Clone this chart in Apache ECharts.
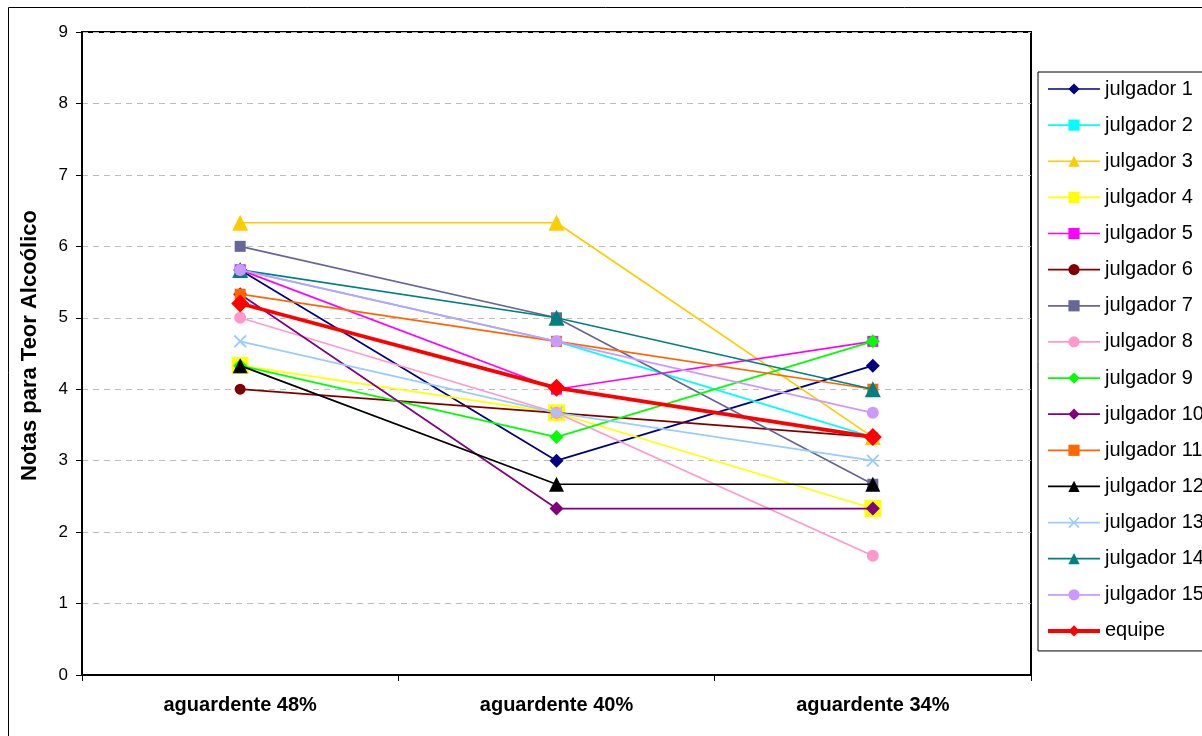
<!DOCTYPE html>
<html>
<head>
<meta charset="utf-8">
<script src="https://cdn.jsdelivr.net/npm/echarts@6/dist/echarts.min.js"></script>
<style>
  html, body { margin: 0; padding: 0; background: #fff; }
  #chart { width: 1202px; height: 736px; }
</style>
</head>
<body>
<div id="chart"></div>
<script>
// Categories (alcohol content of the samples)
const categories = ['aguardente 48%', 'aguardente 40%', 'aguardente 34%'];

// Scores given by each judge
const julgador1  = [5.67, 3.00, 4.33];
const julgador2  = [5.67, 4.67, 3.33];
const julgador3  = [6.33, 6.33, 3.33];
const julgador4  = [4.33, 3.67, 2.33];
const julgador5  = [5.67, 4.00, 4.67];
const julgador6  = [4.00, 3.67, 3.33];
const julgador7  = [6.00, 5.00, 2.67];
const julgador8  = [5.00, 3.67, 1.67];
const julgador9  = [4.33, 3.33, 4.67];
const julgador10 = [5.33, 2.33, 2.33];
const julgador11 = [5.33, 4.67, 4.00];
const julgador12 = [4.33, 2.67, 2.67];
const julgador13 = [4.67, 3.67, 3.00];
const julgador14 = [5.67, 5.00, 4.00];
const julgador15 = [5.67, 4.67, 3.67];
// Panel mean
const equipe     = [5.20, 4.02, 3.33];

const yTicks = [0, 1, 2, 3, 4, 5, 6, 7, 8, 9];

// A filled "x" mark
const crossPath = 'path://M0,1L1,0L5,4L9,0L10,1L6,5L10,9L9,10L5,6L1,10L0,9L4,5Z';

const seriesDefs = [
  { name: 'julgador 1',  data: julgador1,  color: '#000080', symbol: 'diamond',  size: 14 },
  { name: 'julgador 2',  data: julgador2,  color: '#00FFFF', symbol: 'rect',     size: 11 },
  { name: 'julgador 3',  data: julgador3,  color: '#FFCC00', symbol: 'triangle', size: 16 },
  { name: 'julgador 4',  data: julgador4,  color: '#FFFF00', symbol: 'rect',     size: 17 },
  { name: 'julgador 5',  data: julgador5,  color: '#FF00FF', symbol: 'rect',     size: 11 },
  { name: 'julgador 6',  data: julgador6,  color: '#800000', symbol: 'circle',   size: 11 },
  { name: 'julgador 7',  data: julgador7,  color: '#666699', symbol: 'rect',     size: 11 },
  { name: 'julgador 8',  data: julgador8,  color: '#FF99CC', symbol: 'circle',   size: 12 },
  { name: 'julgador 9',  data: julgador9,  color: '#00FF00', symbol: 'diamond',  size: 14 },
  { name: 'julgador 10', data: julgador10, color: '#800080', symbol: 'diamond',  size: 14 },
  { name: 'julgador 11', data: julgador11, color: '#FF6600', symbol: 'rect',     size: 11 },
  { name: 'julgador 12', data: julgador12, color: '#000000', symbol: 'triangle', size: 15 },
  { name: 'julgador 13', data: julgador13, color: '#99CCFF', symbol: crossPath,  size: 13 },
  { name: 'julgador 14', data: julgador14, color: '#008080', symbol: 'triangle', size: 16 },
  { name: 'julgador 15', data: julgador15, color: '#CC99FF', symbol: 'circle',   size: 12 },
  { name: 'equipe',      data: equipe,     color: '#FF0000', symbol: 'diamond',  size: 18, width: 3.8 }
];

const series = seriesDefs.map(function (d, i) {
  return {
    name: d.name,
    type: 'line',
    data: d.data,
    symbol: d.symbol,
    symbolSize: d.size,
    showAllSymbol: true,
    z: 2 + i * 0.01,
    lineStyle: { color: d.color, width: d.width || 1.7 },
    itemStyle: { color: d.color, borderWidth: 0 },
    emphasis: { disabled: true },
    animation: false
  };
});

const legendData = seriesDefs.map(function (d) {
  return {
    name: d.name,
    lineStyle: { width: d.width ? 4 : 1.7 }
  };
});

const chart = echarts.init(document.getElementById('chart'), null, { renderer: 'canvas' });

chart.setOption({
  backgroundColor: '#ffffff',
  animation: false,
  graphic: [{
    type: 'rect',
    shape: { x: 8.5, y: 7.5, width: 1400, height: 900 },
    style: { fill: 'none', stroke: '#000', lineWidth: 1 },
    silent: true,
    z: -10
  }],
  grid: {
    left: 82, right: 171, top: 32, bottom: 61,
    show: true,
    borderColor: '#000',
    borderWidth: 2,
    backgroundColor: '#fff'
  },
  legend: {
    orient: 'vertical',
    left: 1038,
    top: 72,
    padding: [7, 10, 10, 8],
    itemWidth: 52,
    itemHeight: 14,
    itemGap: 16.13,
    borderColor: '#000',
    borderWidth: 1,
    backgroundColor: '#fff',
    textStyle: { fontFamily: 'Liberation Sans, Arial, sans-serif', fontSize: 20, color: '#000', lineHeight: 20 },
    data: legendData
  },
  xAxis: {
    type: 'category',
    data: categories,
    boundaryGap: true,
    axisLine: { show: true, lineStyle: { color: '#000', width: 2 } },
    axisTick: { show: true, length: 6, lineStyle: { color: '#000', width: 1 } },
    axisLabel: {
      margin: 20,
      fontFamily: 'Liberation Sans, Arial, sans-serif',
      fontWeight: 'bold',
      fontSize: 20,
      color: '#000'
    },
    splitLine: { show: false }
  },
  yAxis: {
    type: 'value',
    min: yTicks[0],
    max: yTicks[yTicks.length - 1],
    interval: 1,
    name: 'Notas para Teor Alcoólico',
    nameLocation: 'middle',
    nameGap: 41,
    nameRotate: 90,
    nameTextStyle: {
      fontFamily: 'Liberation Sans, Arial, sans-serif',
      fontWeight: 'bold',
      fontSize: 22,
      color: '#000',
      padding: [0, 0, 0, 16]
    },
    axisLine: { show: true, lineStyle: { color: '#000', width: 2 } },
    axisTick: { show: true, length: 6, lineStyle: { color: '#000', width: 1 } },
    axisLabel: {
      margin: 14,
      fontFamily: 'Liberation Sans, Arial, sans-serif',
      fontSize: 17,
      color: '#000'
    },
    splitLine: { show: true, lineStyle: { color: '#BDBDBD', width: 1, type: [6, 5] } }
  },
  series: series
});
</script>
</body>
</html>
